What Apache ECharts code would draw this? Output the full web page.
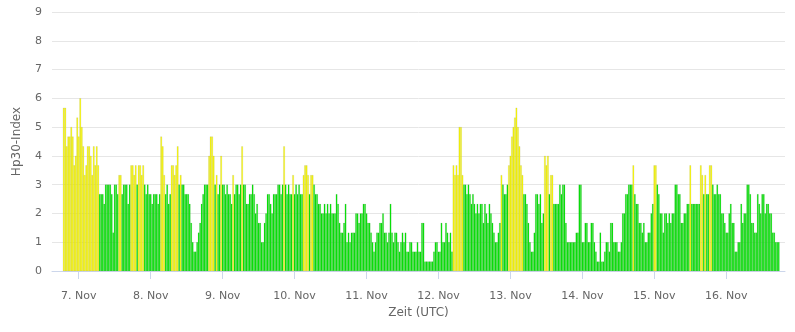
<!DOCTYPE html>
<html>
<head>
<meta charset="utf-8">
<script src="https://cdn.jsdelivr.net/npm/echarts@6/dist/echarts.min.js"></script>
<style>
  html, body { margin: 0; padding: 0; background: #ffffff; }
  #chart { width: 795px; height: 332px; }
</style>
</head>
<body>
<div id="chart"></div>
<script>
// Half-hourly Hp30 index values (UTC), one array per calendar day.
// 6 Nov starts at 19:00, 16 Nov ends at 17:30.
const hp30Nov06 = [5.67, 5.67, 4.33, 4.67, 4.67, 5.0, 4.67, 3.67, 4.0, 5.33];
const hp30Nov07 = [4.67, 6.0, 5.0, 4.33, 3.33, 3.67, 4.33, 4.33, 4.0, 3.33, 4.33, 3.67,
                   4.33, 3.67, 2.67, 2.67, 2.67, 2.33, 3.0, 3.0, 3.0, 3.0, 2.67, 1.33,
                   3.0, 3.0, 2.67, 3.33, 3.33, 2.67, 3.0, 3.0, 3.0, 2.33, 3.0, 3.67,
                   3.67, 3.33, 3.67, 3.0, 3.67, 3.67, 3.33, 3.67, 3.0, 2.67, 3.0, 2.67];
const hp30Nov08 = [2.67, 2.33, 2.67, 2.67, 2.67, 2.33, 2.67, 4.67, 4.33, 3.33, 2.67, 3.0,
                   2.33, 2.67, 3.67, 3.67, 3.33, 3.67, 4.33, 3.0, 3.33, 3.0, 3.0, 2.67,
                   2.67, 2.67, 2.33, 1.67, 1.0, 0.67, 0.67, 1.0, 1.33, 1.67, 2.33, 2.67,
                   3.0, 3.0, 3.0, 4.0, 4.67, 4.67, 4.0, 3.0, 3.33, 2.67, 3.0, 4.0];
const hp30Nov09 = [3.0, 3.0, 2.67, 3.0, 2.67, 2.67, 2.33, 3.33, 2.67, 3.0, 3.0, 2.67,
                   3.0, 4.33, 3.0, 3.0, 2.33, 2.33, 2.67, 2.67, 3.0, 2.67, 2.0, 2.33,
                   1.67, 1.67, 1.0, 1.0, 1.67, 2.0, 2.67, 2.67, 2.33, 2.0, 2.67, 2.67,
                   2.67, 3.0, 3.0, 2.67, 3.0, 4.33, 3.0, 2.67, 3.0, 2.67, 2.67, 3.33];
const hp30Nov10 = [2.67, 3.0, 2.67, 3.0, 2.67, 2.67, 3.33, 3.67, 3.67, 3.33, 2.67, 3.33,
                   3.33, 3.0, 2.67, 2.67, 2.33, 2.33, 2.0, 2.0, 2.33, 2.0, 2.33, 2.0,
                   2.33, 2.0, 2.0, 2.0, 2.67, 2.33, 1.67, 1.33, 1.33, 1.67, 2.33, 1.0,
                   1.33, 1.0, 1.33, 1.33, 1.33, 2.0, 2.0, 1.67, 2.0, 2.0, 2.33, 2.33];
const hp30Nov11 = [2.0, 1.67, 1.67, 1.33, 1.0, 0.67, 1.0, 1.33, 1.33, 1.67, 1.67, 2.0,
                   1.33, 1.33, 1.0, 1.33, 2.33, 1.33, 1.0, 1.33, 1.33, 1.0, 0.67, 1.0,
                   1.33, 1.0, 1.33, 0.67, 0.67, 1.0, 1.0, 0.67, 0.67, 0.67, 1.0, 0.67,
                   0.67, 1.67, 1.67, 0.33, 0.33, 0.33, 0.33, 0.33, 0.33, 0.67, 1.0, 1.0];
const hp30Nov12 = [0.67, 0.67, 1.67, 1.0, 1.0, 1.67, 1.33, 1.0, 1.33, 0.67, 3.67, 3.33,
                   3.67, 3.33, 5.0, 5.0, 3.33, 3.0, 3.0, 2.67, 3.0, 2.67, 2.33, 2.67,
                   2.33, 2.0, 2.33, 2.0, 2.33, 2.33, 1.67, 2.33, 2.0, 1.67, 2.33, 2.0,
                   1.67, 1.33, 1.0, 1.0, 1.33, 1.67, 3.33, 3.0, 2.67, 2.67, 3.0, 3.67];
const hp30Nov13 = [4.0, 4.67, 5.0, 5.33, 5.67, 5.0, 4.33, 3.67, 3.33, 2.67, 2.67, 2.33,
                   1.67, 1.0, 0.67, 0.67, 1.33, 2.67, 2.67, 2.33, 2.67, 1.67, 2.0, 4.0,
                   3.67, 4.0, 2.67, 3.33, 3.33, 2.33, 2.33, 2.33, 2.33, 3.0, 2.67, 3.0,
                   3.0, 1.67, 1.0, 1.0, 1.0, 1.0, 1.0, 1.0, 1.33, 1.33, 3.0, 3.0];
const hp30Nov14 = [1.0, 1.0, 1.67, 1.67, 1.0, 1.0, 1.67, 1.67, 1.0, 0.67, 0.33, 0.33,
                   1.33, 0.33, 0.33, 0.67, 1.0, 1.0, 0.67, 1.67, 1.67, 1.0, 1.0, 1.0,
                   0.67, 0.67, 1.0, 2.0, 2.0, 2.67, 2.67, 3.0, 3.0, 3.0, 3.67, 2.67,
                   2.33, 2.33, 1.67, 1.67, 1.33, 1.67, 1.0, 1.0, 1.33, 1.33, 2.0, 2.33];
const hp30Nov15 = [3.67, 3.67, 3.0, 2.67, 2.0, 2.0, 1.33, 2.0, 2.0, 1.67, 2.0, 1.67,
                   2.0, 2.0, 3.0, 3.0, 2.67, 2.67, 1.67, 1.67, 2.0, 2.0, 2.33, 2.33,
                   3.67, 2.33, 2.33, 2.33, 2.33, 2.33, 2.33, 3.67, 3.33, 2.67, 3.33, 2.67,
                   2.67, 3.67, 3.67, 3.0, 2.67, 2.67, 3.0, 2.67, 2.67, 2.0, 2.0, 1.67];
const hp30Nov16 = [1.33, 1.33, 2.0, 2.33, 1.67, 1.67, 0.67, 0.67, 1.0, 1.0, 2.33, 1.67,
                   2.0, 2.0, 3.0, 3.0, 2.67, 1.67, 1.67, 1.33, 1.33, 2.67, 2.33, 2.0,
                   2.67, 2.67, 2.0, 2.33, 2.33, 2.0, 2.0, 1.33, 1.33, 1.0, 1.0, 1.0];

// [day of November, first half-hour slot of the day, values]
const dayBlocks = [
  [6, 38, hp30Nov06], [7, 0, hp30Nov07], [8, 0, hp30Nov08], [9, 0, hp30Nov09],
  [10, 0, hp30Nov10], [11, 0, hp30Nov11], [12, 0, hp30Nov12], [13, 0, hp30Nov13],
  [14, 0, hp30Nov14], [15, 0, hp30Nov15], [16, 0, hp30Nov16]
];

const YEAR = 2023;
const HALF_HOUR = 30 * 60 * 1000;
const DAY = 24 * 60 * 60 * 1000;

const points = [];
dayBlocks.forEach(([day, firstSlot, values]) => {
  const dayStart = Date.UTC(YEAR, 10, day);
  values.forEach((v, k) => points.push([dayStart + (firstSlot + k) * HALF_HOUR, v]));
});

const FONT = 'DejaVu Sans';
const chart = echarts.init(document.getElementById('chart'), null, { renderer: 'canvas' });

chart.setOption({
  animation: false,
  useUTC: true,
  backgroundColor: '#ffffff',
  grid: { left: 52, right: 10, top: 12, bottom: 61, containLabel: false },
  xAxis: {
    type: 'time',
    min: Date.UTC(YEAR, 10, 6, 15, 20),
    max: Date.UTC(YEAR, 10, 16, 19, 20),
    minInterval: DAY,
    maxInterval: DAY,
    offset: 12,
    name: 'Zeit (UTC)',
    nameLocation: 'middle',
    nameGap: 24,
    nameTextStyle: { color: '#666666', fontSize: 12, fontFamily: FONT },
    axisLine: { show: true, lineStyle: { color: '#ccd6eb', width: 1 } },
    axisTick: { show: true, length: 8, lineStyle: { color: '#ccd6eb' } },
    splitLine: { show: false },
    axisLabel: {
      color: '#666666',
      fontSize: 11,
      fontFamily: FONT,
      margin: 8,
      showMinLabel: false,
      showMaxLabel: false,
      formatter: (val) => new Date(val).getUTCDate() + '. Nov'
    }
  },
  yAxis: {
    type: 'value',
    min: 0,
    max: 9,
    interval: 1,
    name: 'Hp30-Index',
    nameLocation: 'middle',
    nameGap: 29,
    nameTextStyle: { color: '#666666', fontSize: 12, fontFamily: FONT },
    axisLine: { show: false },
    axisTick: { show: false },
    axisLabel: { color: '#666666', fontSize: 11, fontFamily: FONT, margin: 10 },
    splitLine: { lineStyle: { color: '#e6e6e6', width: 1 } }
  },
  series: [{
    type: 'bar',
    data: points,
    barWidth: '100%',
    itemStyle: {
      color: (p) => (p.value[1] > 3.01 ? '#ffff00' : '#00ec00'),
      borderColor: 'rgba(110,110,110,0.55)',
      borderWidth: 0.25
    }
  }]
});
</script>
</body>
</html>
